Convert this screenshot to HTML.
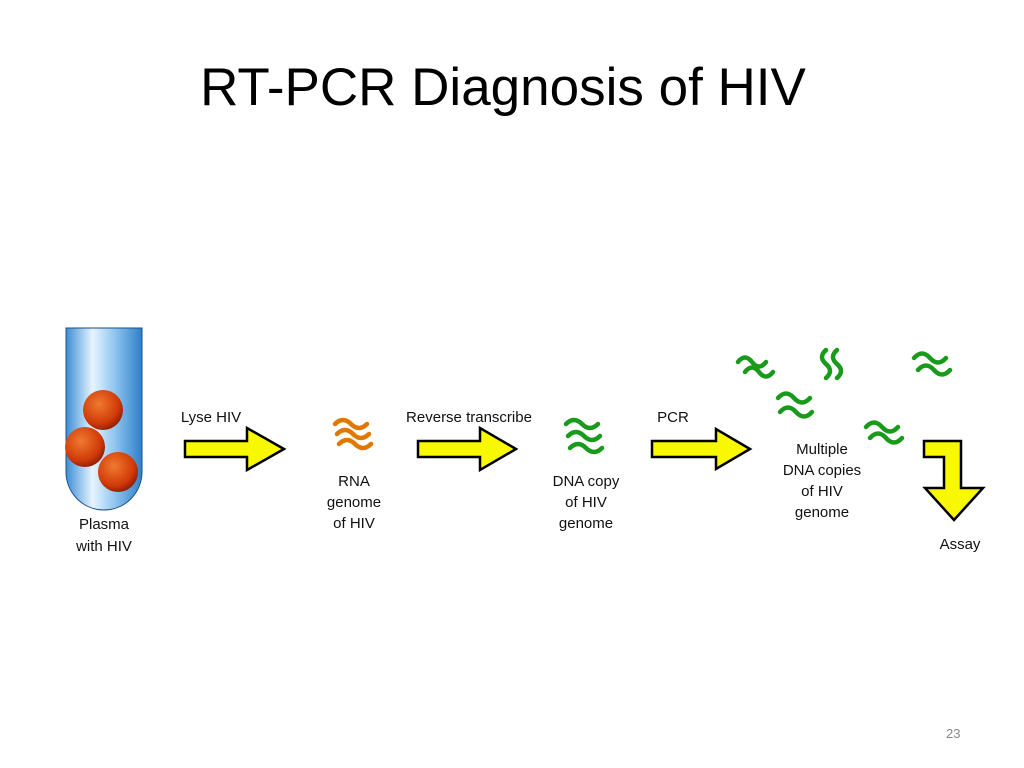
<!DOCTYPE html>
<html><head><style>
body{margin:0;width:1024px;height:768px;background:#fff;overflow:hidden;position:relative;font-family:"Liberation Sans",sans-serif}
.t{position:absolute;left:-9px;width:1024px;top:57px;text-align:center;font-size:53px;color:#000}
.n{position:absolute;left:946px;top:726px;font-size:13px;color:#888}
</style></head><body>
<div class="t">RT-PCR Diagnosis of HIV</div>
<div class="n">23</div>
<svg width="1024" height="768" style="position:absolute;left:0;top:0">
<defs>
<linearGradient id="tg" x1="0" x2="1">
<stop offset="0" stop-color="#3b8ed6"/><stop offset="0.35" stop-color="#e8f4ff"/><stop offset="0.65" stop-color="#8cc4ef"/><stop offset="1" stop-color="#2f7fc8"/></linearGradient>
<radialGradient id="bg" cx="0.4" cy="0.35" r="0.7"><stop offset="0" stop-color="#f07a30"/><stop offset="0.7" stop-color="#d03a08"/><stop offset="1" stop-color="#8a1a00"/></radialGradient>
</defs>
<path d="M66 328 H142 V472 A38 38 0 0 1 66 472 Z" fill="url(#tg)" stroke="#1a4f8a" stroke-width="1"/>
<circle cx="103" cy="410" r="20" fill="url(#bg)"/>
<circle cx="85" cy="447" r="20" fill="url(#bg)"/>
<circle cx="118" cy="472" r="20" fill="url(#bg)"/>
<g fill="#f8f800" stroke="#000" stroke-width="2.5" stroke-linejoin="miter">
<path d="M185 441 H247 V428 L284 449 L247 470 V457 H185 Z"/>
<path d="M418 441 H480 V428 L516 449 L480 470 V457 H418 Z"/>
<path d="M652 441 H716 V429 L750 449 L716 469 V457 H652 Z"/>
<path d="M924 441 H961 V488 H983 L954 520 L925 488 H944 V457 H924 Z"/>
</g>
<g fill="none" stroke-width="4.5" stroke-linecap="round">
<g stroke="#e07800">
<path d="M335 424 q8 -8 16 0 t16 0"/><path d="M337 434 q8 -8 16 0 t16 0"/><path d="M339 444 q8 -8 16 0 t16 0"/>
</g>
<g stroke="#1a9a1a">
<path d="M566 424 q8 -8 16 0 t16 0"/><path d="M568 436 q8 -8 16 0 t16 0"/><path d="M570 448 q8 -8 16 0 t16 0"/>
<path d="M738 362 q7 -9 14 0 t14 0"/><path d="M745 372 q7 -9 14 0 t14 0"/>
<path d="M826 350 q-8 7 0 14 t0 14 M837 350 q-8 7 0 14 t0 14"/>
<path d="M914 358 q8 -9 16 0 t16 0"/><path d="M918 370 q8 -9 16 0 t16 0"/>
<path d="M778 398 q8 -9 16 0 t16 0"/><path d="M780 412 q8 -9 16 0 t16 0"/>
<path d="M866 427 q8 -9 16 0 t16 0"/><path d="M870 438 q8 -9 16 0 t16 0"/>
</g>
</g>
<g font-size="15" fill="#111" text-anchor="middle">
<text x="211" y="422">Lyse HIV</text>
<text x="469" y="422">Reverse transcribe</text>
<text x="673" y="422">PCR</text>
<text x="354" y="486">RNA</text><text x="354" y="507">genome</text><text x="354" y="528">of HIV</text>
<text x="586" y="486">DNA copy</text><text x="586" y="507">of HIV</text><text x="586" y="528">genome</text>
<text x="822" y="454">Multiple</text><text x="822" y="475">DNA copies</text><text x="822" y="496">of HIV</text><text x="822" y="517">genome</text>
<text x="104" y="529">Plasma</text><text x="104" y="551">with HIV</text>
<text x="960" y="549">Assay</text>
</g>
</svg>
</body></html>
